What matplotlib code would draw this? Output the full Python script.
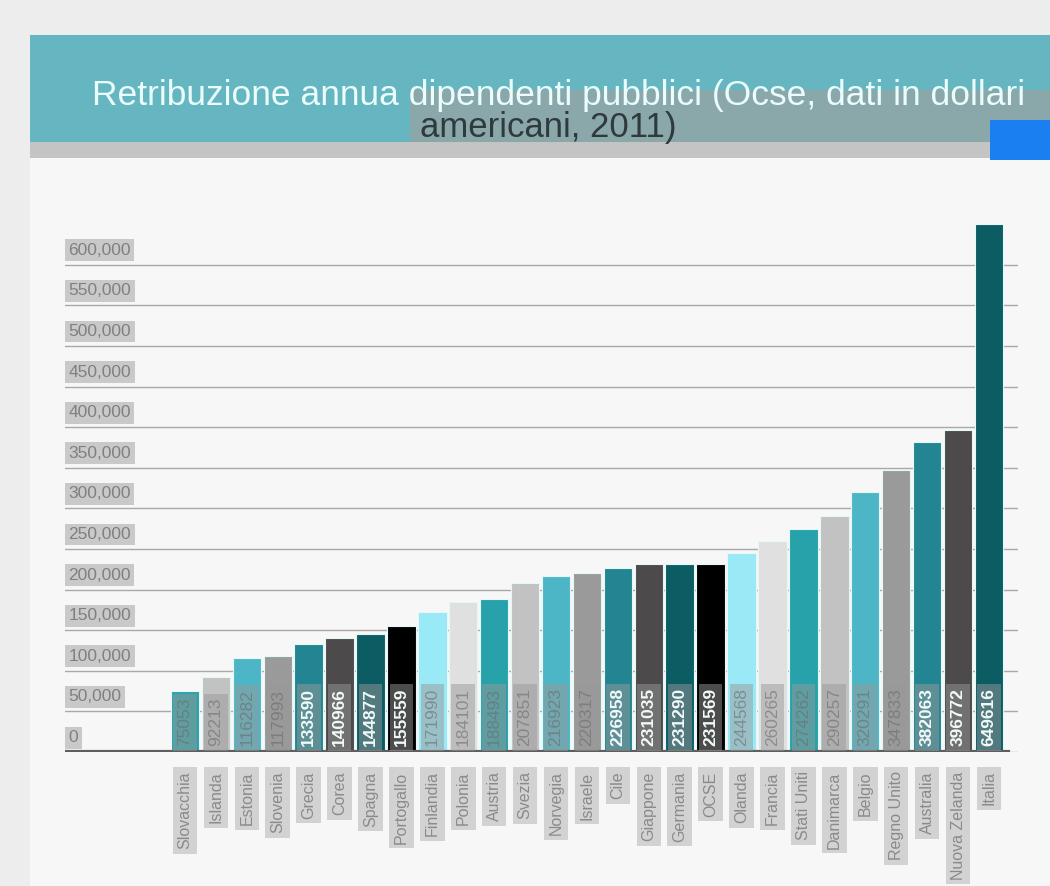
import matplotlib
matplotlib.use('Agg')
import matplotlib.pyplot as plt
from matplotlib.patches import Rectangle

# Dati OCSE 2011: retribuzione annua dipendenti pubblici (USD)
paesi = ['Slovacchia', 'Islanda', 'Estonia', 'Slovenia', 'Grecia', 'Corea', 'Spagna',
         'Portogallo', 'Finlandia', 'Polonia', 'Austria', 'Svezia', 'Norvegia', 'Israele',
         'Cile', 'Giappone', 'Germania', 'OCSE', 'Olanda', 'Francia', 'Stati Uniti',
         'Danimarca', 'Belgio', 'Regno Unito', 'Australia', 'Nuova Zelanda', 'Italia']
retribuzioni = [75053, 92213, 116282, 117993, 133590, 140966, 144877,
                155559, 171990, 184101, 188493, 207851, 216923, 220317,
                226958, 231035, 231290, 231569, 244568, 260265, 274262,
                290257, 320291, 347833, 382063, 396772, 649616]
tacche_y = [0, 50000, 100000, 150000, 200000, 250000, 300000,
            350000, 400000, 450000, 500000, 550000, 600000]

titolo_1 = 'Retribuzione annua dipendenti pubblici (Ocse, dati in dollari'
titolo_2 = 'americani, 2011)'

# palette ciclica delle barre; gli indici 4-7 sono i toni scuri (etichetta bianca)
palette = ['#27a2aa', '#c2c2c2', '#4db6c6', '#9a9a9a', '#238591',
           '#4c4a4b', '#0c5c64', '#000000', '#9ae9f7', '#e0e0e0']
scuri = {4, 5, 6, 7}

FONT = ['Liberation Sans', 'DejaVu Sans']
W, H = 1050, 886


def box(x0, y0, x1, y1, color):
    # rettangolo in pixel (origine in alto a sinistra) sulla figura
    return Rectangle((x0 / W, 1 - y1 / H), (x1 - x0) / W, (y1 - y0) / H,
                     transform=fig.transFigure, facecolor=color, edgecolor='none', zorder=0)


fig = plt.figure(figsize=(W / 100, H / 100), dpi=100, facecolor='#ededed')

# cornice della pagina e testata
fig.add_artist(box(30, 35, W, H, '#f7f7f7'))
fig.add_artist(box(30, 35, W, 142, '#65b6c1'))
fig.add_artist(box(410, 90, W, 142, '#8aa8aa'))
fig.add_artist(box(30, 142, W, 158, '#c4c4c4'))
fig.add_artist(box(990, 120, W, 160, '#1a7ff0'))
fig.text(559 / W, 1 - 95 / H, titolo_1, ha='center', va='center', fontsize=25.5,
         color='#eafcfc', family=FONT)
fig.text(548 / W, 1 - 127 / H, titolo_2, ha='center', va='center', fontsize=25,
         color='#2f3a3c', family=FONT)

ax = fig.add_axes([65 / W, 1 - 752 / H, (1018 - 65) / W, (752 - 216) / H])
ax.set_facecolor('none')
for s in ax.spines.values():
    s.set_visible(False)

x = list(range(len(paesi)))
colori = [palette[i % len(palette)] for i in x]
ax.bar(x, retribuzioni, width=0.92, color=colori, edgecolor='#e6f7f8', linewidth=0.8, zorder=2)

ax.set_xlim(-3.88, 26.94)
ax.set_ylim(0, 660000)
ax.set_yticks(tacche_y)
ax.yaxis.grid(True, color='#a9a9a9', linewidth=1)
ax.set_axisbelow(True)
ax.tick_params(axis='y', length=0, labelleft=False)
ax.axhline(0, xmin=0.0, xmax=0.99, color='#5e5e5e', linewidth=3, zorder=4)

# etichette asse y dentro l'area, sopra la griglia
for v in tacche_y:
    ax.annotate(f'{v:,}', xy=(0, v), xycoords=ax.get_yaxis_transform(),
                xytext=(2.5, 5), textcoords='offset points', ha='left', va='bottom',
                fontsize=12.5, color='#808080', family=FONT,
                bbox=dict(boxstyle='square,pad=0.2', fc='#c9c9c9', ec='none'))

# valori scritti in verticale alla base di ogni barra
for i, v in enumerate(retribuzioni):
    scuro = (i % len(palette)) in scuri
    ax.annotate(str(v), xy=(i, 0), xytext=(0, 4), textcoords='offset points',
                rotation=90, ha='center', va='bottom', fontsize=12.5,
                color='#f2fafa' if scuro else (0.42, 0.42, 0.42, 0.6),
                weight='bold' if scuro else 'normal', family=FONT, zorder=5,
                bbox=dict(boxstyle='square,pad=0.25', fc=(0.6, 0.6, 0.6, 0.5), ec='none'))

# nomi dei paesi ruotati con riquadro grigio
ax.set_xticks(x)
ax.set_xticklabels(paesi, rotation=90, fontsize=11.5, color='#8a8a8a', family=FONT)
ax.tick_params(axis='x', length=0, pad=14)
for lbl in ax.get_xticklabels():
    lbl.set_bbox(dict(boxstyle='square,pad=0.3', fc='#d2d2d2', ec='none'))

fig.savefig('out.png', dpi=100, facecolor=fig.get_facecolor())
